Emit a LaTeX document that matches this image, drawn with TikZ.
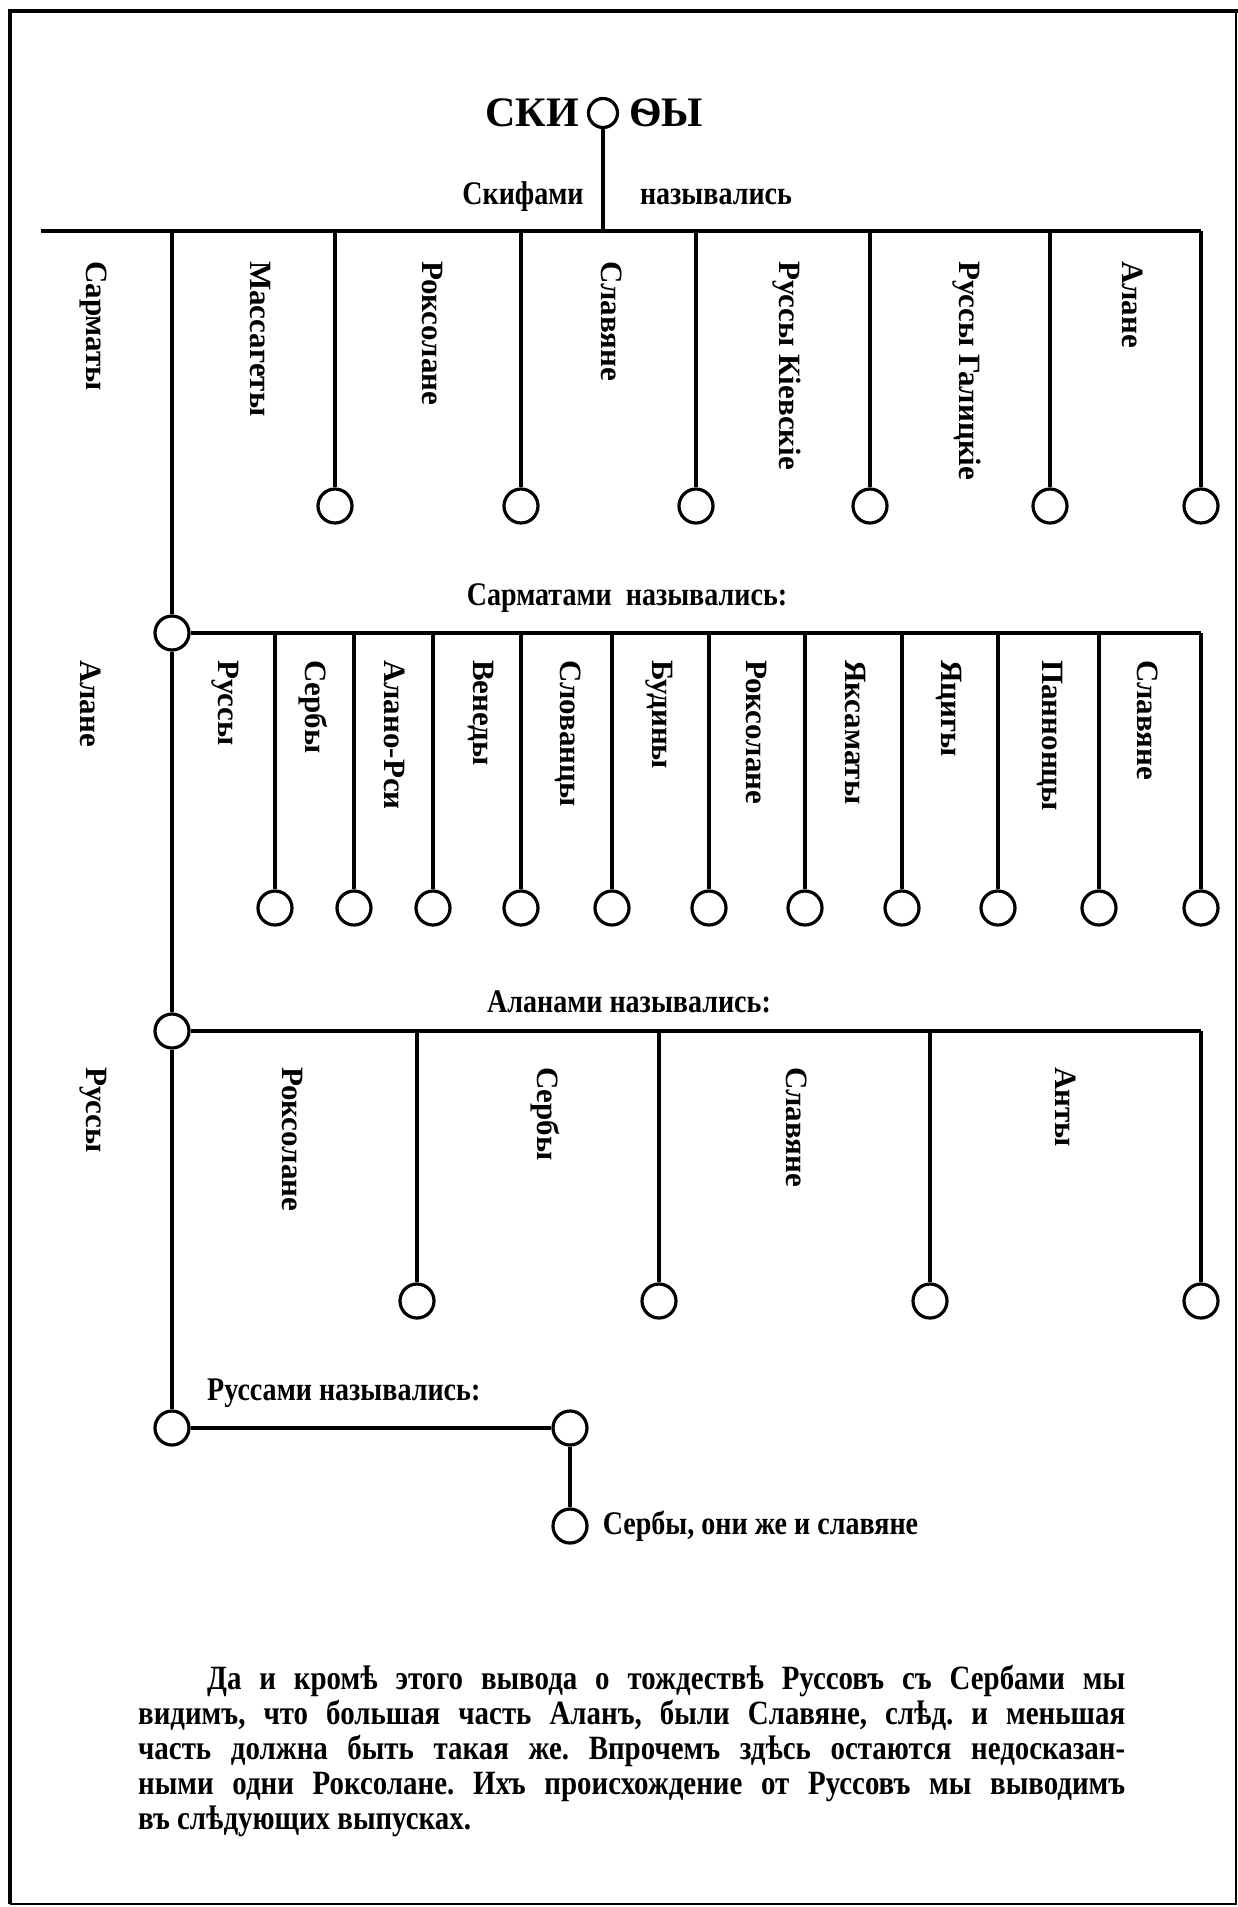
\documentclass[tikz,border=0pt]{standalone}
\usepackage{fontspec}
\setmainfont{Liberation Serif}
\newfontfamily\narrowfont[FakeStretch=0.85]{Liberation Serif}
\usetikzlibrary{positioning}
\frenchspacing
\tikzset{%
    ring/.style = {draw=black, circle, line width=3.2pt,
        minimum size=34pt, inner sep=0pt},
    line/.style = {draw=black, line width=3.4pt},
    tag/.style = {rotate=-90, anchor=west, inner sep=0pt,
        font=\fontsize{31}{31}\selectfont\bfseries},
    head/.style = {inner sep=0pt, font=\narrowfont\fontsize{33}{33}\selectfont\bfseries},
    title/.style = {inner sep=0pt, font=\fontsize{42}{42}\selectfont\bfseries},
}

\begin{document}
\begin{tikzpicture}[x=1pt, y=-1pt]
    \useasboundingbox (0,0) rectangle (1238,1907);
    \draw[line width=3.5pt] (10,1904) -- (10,11) -- (1238,11);
    \draw[line width=1.2pt] (10,1904) -- (1236,1904) -- (1236,11);

    \node [ring, minimum size=29pt] (top) at (603,113) {};
    \node [title, left=8pt of top] (ski) {СКИ};
    \node [title, right=10pt of top] (fy) {ѲЫ};
    \coordinate (bar1) at (41,231);
    \node [head] (skif) at (523,197) {Скифами};
    \node [head] (nazv) at (716,197) {назывались};
    \path [line] (top) -- (top |- bar1);

    \node [ring] (a1) at (335,506) {};
    \node [ring] (a2) at (521,506) {};
    \node [ring] (a3) at (696,506) {};
    \node [ring] (a4) at (870,506) {};
    \node [ring] (a5) at (1050,506) {};
    \node [ring] (a6) at (1201,506) {};
    \path [line] (bar1) -- (bar1 -| a6);
    \path [line] (a1) -- (a1 |- bar1);
    \path [line] (a2) -- (a2 |- bar1);
    \path [line] (a3) -- (a3 |- bar1);
    \path [line] (a4) -- (a4 |- bar1);
    \path [line] (a5) -- (a5 |- bar1);
    \path [line] (a6) -- (a6 |- bar1);
    \node [tag] (t0) at (93,261) {Сарматы};
    \node [tag] (t1) at (260,261) {Массагеты};
    \node [tag] (t2) at (432,261) {Роксолане};
    \node [tag] (t3) at (612,261) {Славяне};
    \node [tag] (t4) at (787,261) {Руссы Кіевскіе};
    \node [tag] (t5) at (967,261) {Руссы Галицкіе};
    \node [tag] (t6) at (1133,261) {Алане};

    \node [head] (sarm) at (627,598) {Сарматами\ \ назывались:};
    \node [ring] (s0) at (172,633) {};
    \path [line] (s0) -- (s0 |- bar1);
    \node [ring] (s1) at (275,908) {};
    \node [ring] (s2) at (354,908) {};
    \node [ring] (s3) at (433,908) {};
    \node [ring] (s4) at (521,908) {};
    \node [ring] (s5) at (612,908) {};
    \node [ring] (s6) at (709,908) {};
    \node [ring] (s7) at (805,908) {};
    \node [ring] (s8) at (902,908) {};
    \node [ring] (s9) at (998,908) {};
    \node [ring] (s10) at (1099,908) {};
    \node [ring] (s11) at (1201,908) {};
    \path [line] (s0) -- (s0 -| s11);
    \path [line] (s1) -- (s1 |- s0);
    \path [line] (s2) -- (s2 |- s0);
    \path [line] (s3) -- (s3 |- s0);
    \path [line] (s4) -- (s4 |- s0);
    \path [line] (s5) -- (s5 |- s0);
    \path [line] (s6) -- (s6 |- s0);
    \path [line] (s7) -- (s7 |- s0);
    \path [line] (s8) -- (s8 |- s0);
    \path [line] (s9) -- (s9 |- s0);
    \path [line] (s10) -- (s10 |- s0);
    \path [line] (s11) -- (s11 |- s0);
    \node [tag] (u0) at (91,660) {Алане};
    \node [tag] (u1) at (225,660) {Руссы};
    \node [tag] (u2) at (313,660) {Сербы};
    \node [tag] (u3) at (395,660) {Алано-Рси};
    \node [tag] (u4) at (481,660) {Венеды};
    \node [tag] (u5) at (568,660) {Слованцы};
    \node [tag] (u6) at (659,660) {Будины};
    \node [tag] (u7) at (756,660) {Роксолане};
    \node [tag] (u8) at (855,660) {Яксаматы};
    \node [tag] (u9) at (949,660) {Яцигы};
    \node [tag] (u10) at (1050,660) {Паннонцы};
    \node [tag] (u11) at (1148,660) {Славяне};

    \node [head] (alan) at (629,1002) {Аланами назывались:};
    \node [ring] (l0) at (172,1031) {};
    \path [line] (s0) -- (l0);
    \node [ring] (l1) at (417,1301) {};
    \node [ring] (l2) at (659,1301) {};
    \node [ring] (l3) at (930,1301) {};
    \node [ring] (l4) at (1201,1301) {};
    \path [line] (l0) -- (l0 -| l4);
    \path [line] (l1) -- (l1 |- l0);
    \path [line] (l2) -- (l2 |- l0);
    \path [line] (l3) -- (l3 |- l0);
    \path [line] (l4) -- (l4 |- l0);
    \node [tag] (v0) at (93,1067) {Руссы};
    \node [tag] (v1) at (292,1067) {Роксолане};
    \node [tag] (v2) at (545,1067) {Сербы};
    \node [tag] (v3) at (797,1067) {Славяне};
    \node [tag] (v4) at (1066,1067) {Анты};

    \node [ring] (r0) at (172,1428) {};
    \path [line] (l0) -- (r0);
    \node [head, anchor=west] (russ) at (207,1393) {Руссами назывались:};
    \node [ring] (r1) at (570,1428) {};
    \node [ring] (r2) at (570,1526) {};
    \path [line] (r0) -- (r1);
    \path [line] (r1) -- (r2);
    \node [head, right=14pt of r2] (serb) {Сербы, они же и славяне};

    \node [anchor=north west, text width=987pt, align=justify, inner sep=0pt,
        font=\narrowfont\fontsize{34}{35}\selectfont\bfseries] (note) at (138,1665) {%
\hspace*{69pt}Да и кромѣ этого вывода о тождествѣ Руссовъ съ Сербами мы\linebreak
видимъ, что большая часть Аланъ, были Славяне, слѣд. и меньшая\linebreak
часть должна быть такая же. Впрочемъ здѣсь остаются недосказан-\linebreak
ными одни Роксолане. Ихъ происхождение от Руссовъ мы выводимъ\linebreak
въ слѣдующих выпусках.};
\end{tikzpicture}
\end{document}
